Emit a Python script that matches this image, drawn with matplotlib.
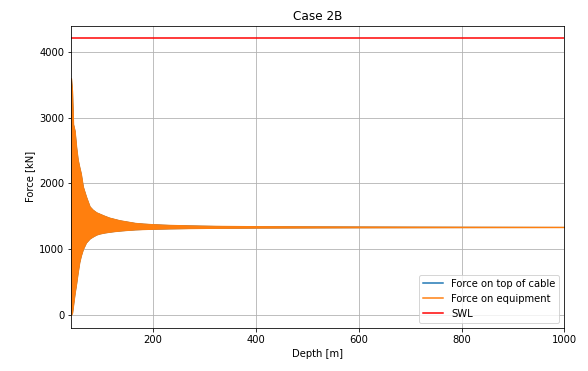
import numpy as np
import matplotlib
matplotlib.use("Agg")
import matplotlib.pyplot as plt

# Envelope of the dynamic force along the lowering depth (kN)
depth = [41, 43, 45, 48, 51, 54, 57, 60, 64, 70, 77, 83, 90, 96, 105,
         115, 125, 135, 150, 165, 180, 200, 230, 270, 320, 400, 500,
         600, 800, 1000]
force_upper = [3600, 3400, 2900, 2800, 2550, 2360, 2250, 2150, 1950, 1800,
               1650, 1600, 1560, 1540, 1510, 1480, 1460, 1440, 1420, 1400,
               1390, 1380, 1370, 1362, 1355, 1350, 1347, 1345, 1342, 1340]
force_lower = [0, 30, 150, 330, 480, 650, 800, 900, 1000, 1100, 1160, 1190,
               1220, 1235, 1250, 1262, 1272, 1280, 1290, 1298, 1303, 1308,
               1313, 1318, 1322, 1326, 1328, 1330, 1332, 1333]
swl = 4210

d = np.asarray(depth, dtype=float)
up = np.asarray(force_upper, dtype=float)
lo = np.asarray(force_lower, dtype=float)

fig = plt.figure(figsize=(588 / 72, 371 / 72), dpi=72)
ax = fig.add_axes([0.121, 0.116, 0.839, 0.815])

# oscillating traces are drawn as their filled envelope band
ax.fill_between(d, lo, up, facecolor="#1f77b4", edgecolor="#1f77b4", lw=0.6)
ax.fill_between(d, lo, up, facecolor="#ff7f0e", edgecolor="#ff7f0e", lw=1.0)
ax.plot([d[0], d[-1]], [swl, swl], color="red", lw=1.5, label="SWL")

# line handles for the two force traces
h_cable, = ax.plot([], [], color="#1f77b4", lw=1.5, label="Force on top of cable")
h_equip, = ax.plot([], [], color="#ff7f0e", lw=1.5, label="Force on equipment")
h_swl = ax.lines[0]

ax.set_xlim(d[0], d[-1])
ax.set_ylim(-200, 4400)
ax.set_xticks([200, 400, 600, 800, 1000])
ax.set_yticks([0, 1000, 2000, 3000, 4000])
ax.grid(True, color="#b0b0b0", lw=0.8)
ax.set_axisbelow(True)
ax.set_title("Case 2B", fontsize=12)
ax.set_xlabel("Depth [m]")
ax.set_ylabel("Force [kN]")
ax.legend(handles=[h_cable, h_equip, h_swl], loc="lower right")

fig.savefig("out.png", dpi=72)
